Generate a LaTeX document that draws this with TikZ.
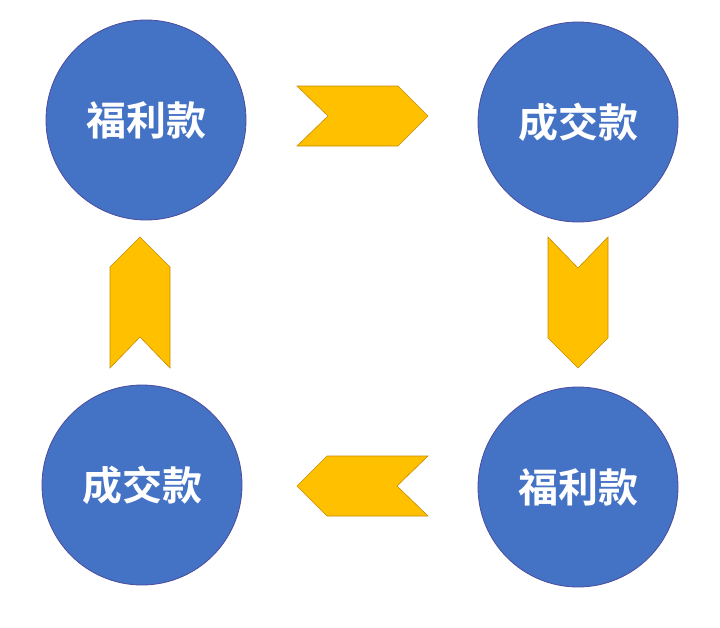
\documentclass[tikz,border=0pt]{standalone}
\usepackage{fontspec}
\newfontfamily\cjk{Noto Sans CJK SC Bold}
\begin{document}
\begin{tikzpicture}[x=1pt,y=-1pt,
  circ/.style={circle,draw=blue!45!black!70,fill={rgb,255:red,68;green,114;blue,196},line width=0.8pt,minimum size=200pt,text=white,font=\cjk\fontsize{40}{40}\selectfont,inner sep=0pt},
  chev/.style={draw={rgb,255:red,200;green,140;blue,0},fill={rgb,255:red,255;green,192;blue,0},line width=0.6pt}]
\useasboundingbox (0,0) rectangle (720,627);
\node[circ] (a) at (146,120) {福利款};
\node[circ] (b) at (578,122) {成交款};
\node[circ] (c) at (578,487) {福利款};
\node[circ] (d) at (142,485) {成交款};
% top chevron (right)
\draw[chev] (297,86) -- (398,86) -- (428,116) -- (398,146) -- (297,146) -- (328,116) -- cycle;
% right chevron (down)
\draw[chev] (548,237) -- (578,268) -- (608,237) -- (608,338) -- (578,368) -- (548,338) -- cycle;
% bottom chevron (left)
\draw[chev] (428,456) -- (327,456) -- (297,486) -- (327,516) -- (428,516) -- (397,486) -- cycle;
% left chevron (up)
\draw[chev] (110,368) -- (140,337) -- (170,368) -- (170,267) -- (140,237) -- (110,267) -- cycle;
\end{tikzpicture}
\end{document}
